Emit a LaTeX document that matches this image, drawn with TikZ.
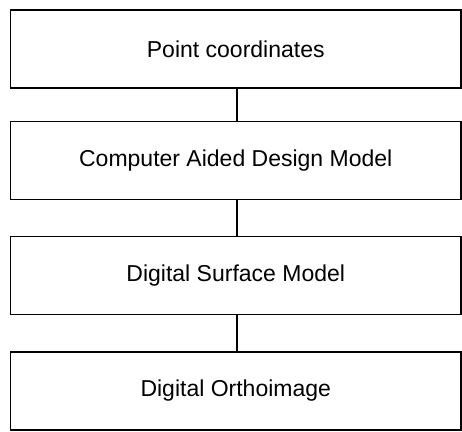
\documentclass[tikz,border=0pt]{standalone}
\usepackage{fontspec}
\setmainfont{Liberation Sans}
\begin{document}
\begin{tikzpicture}[x=1pt,y=-1pt,
  stage/.style={draw=black, line width=1.5pt, minimum width=450.5pt,
    minimum height=78pt, inner sep=0pt, font=\fontsize{23}{26}\selectfont},
  link/.style={draw=black, line width=1.5pt}]
  \useasboundingbox (0,0) rectangle (462,431);
  \node[stage] (p) at (235.75,49)  {Point coordinates};
  \node[stage] (c) at (235.75,160.5) {Computer Aided Design Model};
  \node[stage] (s) at (235.75,275.5) {Digital Surface Model};
  \node[stage] (o) at (235.75,391) {Digital Orthoimage};
  \draw[link] ([xshift=1.25pt]p.south) -- ([xshift=1.25pt]c.north);
  \draw[link] ([xshift=1.25pt]c.south) -- ([xshift=1.25pt]s.north);
  \draw[link] ([xshift=1.25pt]s.south) -- ([xshift=1.25pt]o.north);
\end{tikzpicture}
\end{document}
